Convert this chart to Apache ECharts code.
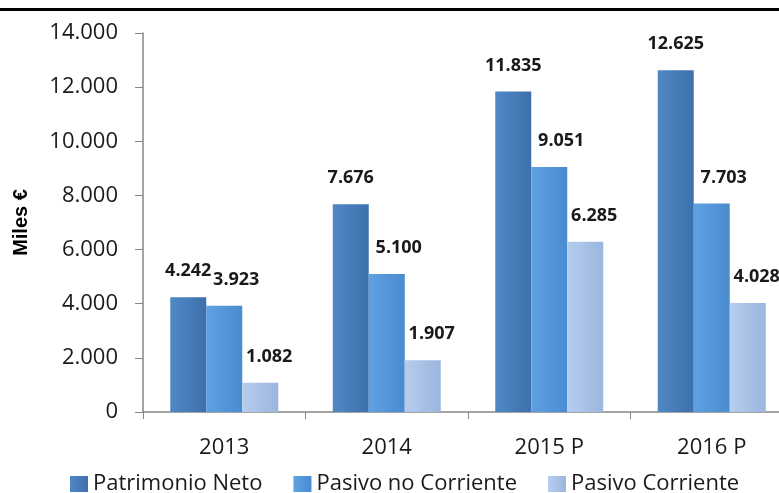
<!DOCTYPE html>
<html lang="es">
<head>
    <meta charset="UTF-8">
    <title>Patrimonio y Pasivo</title>
    <script type="text/javascript" src="https://cdn.jsdelivr.net/npm/echarts@6/dist/echarts.min.js"></script>
    <style>
        html, body { margin: 0; padding: 0; background: #fff; }
    </style>
</head>
<body>

    <div id="chart" style="width:779px;height:493px;"></div>

<script type="text/javascript">

    var years = ['2013', '2014', '2015 P', '2016 P'];
    var patrimonioNeto = [4242, 7676, 11835, 12625];
    var pasivoNoCorriente = [3923, 5100, 9051, 7703];
    var pasivoCorriente = [1082, 1907, 6285, 4028];
    var seriesNames = ['Patrimonio Neto', 'Pasivo no Corriente', 'Pasivo Corriente'];

    function miles(v) {
        return String(v).replace(/\B(?=(\d{3})+(?!\d))/g, '.');
    }

    function grad(a, b) {
        return new echarts.graphic.LinearGradient(0, 0, 1, 0, [
            { offset: 0, color: a },
            { offset: 1, color: b }
        ]);
    }

    var dom = document.getElementById("chart");
    var myChart = echarts.init(dom);

    var labelStyle = {
        show: true,
        position: 'top',
        fontFamily: 'Open Sans',
        fontSize: 18,
        fontWeight: 'bold',
        color: '#1a1a1a',
        formatter: function (p) { return miles(p.value); }
    };

    var option = {
        animation: false,
        textStyle: { fontFamily: 'Open Sans' },
        graphic: [{
            type: 'rect',
            shape: { x: 0, y: 8, width: 779, height: 3 },
            style: { fill: '#000' }
        }],
        // the plot runs past the right edge of the picture
        grid: { left: 143, top: 33, bottom: 81, width: 650, outerBoundsMode: 'none' },
        legend: {
            left: 65,
            top: 468,
            itemWidth: 18,
            itemHeight: 16,
            itemGap: 31,
            icon: 'rect',
            textStyle: { fontSize: 22, color: '#1a1a1a', fontFamily: 'Open Sans' },
            data: seriesNames
        },
        xAxis: {
            type: 'category',
            data: years,
            axisLine: { lineStyle: { color: '#868686', width: 1.5 } },
            axisTick: { show: true, length: 7, lineStyle: { color: '#868686' } },
            axisLabel: { fontSize: 22, color: '#1a1a1a', margin: 25 }
        },
        yAxis: {
            type: 'value',
            min: 0,
            max: 14000,
            interval: 2000,
            name: 'Miles €',
            nameLocation: 'middle',
            nameGap: 112,
            nameTextStyle: { fontSize: 20, fontWeight: 'bold', color: '#000', fontFamily: 'Liberation Sans' },
            axisLine: { show: true, lineStyle: { color: '#868686', width: 1.5 } },
            axisTick: { show: true, length: 8, lineStyle: { color: '#868686' } },
            splitLine: { show: false },
            axisLabel: {
                fontSize: 22,
                color: '#1a1a1a',
                margin: 25,
                formatter: function (v) { return miles(v); }
            }
        },
        series: [{
            name: seriesNames[0],
            type: 'bar',
            data: patrimonioNeto,
            barWidth: 36,
            barGap: '0%',
            itemStyle: { color: grad('#5088c6', '#3d70ab') },
            label: Object.assign({}, labelStyle, { offset: [0, -12] })
        }, {
            name: seriesNames[1],
            type: 'bar',
            data: pasivoNoCorriente,
            barWidth: 36,
            barGap: '0%',
            itemStyle: { color: grad('#5fa1e2', '#4a8bd0') },
            label: Object.assign({}, labelStyle, { offset: [12, -12] })
        }, {
            name: seriesNames[2],
            type: 'bar',
            data: pasivoCorriente,
            barWidth: 36,
            barGap: '0%',
            itemStyle: { color: grad('#b5cdee', '#9bb6de') },
            label: Object.assign({}, labelStyle, { offset: [9, -12] })
        }]
    };

    if (option && typeof option === "object") {
        myChart.setOption(option, true);
    }

</script>
</body>
</html>
